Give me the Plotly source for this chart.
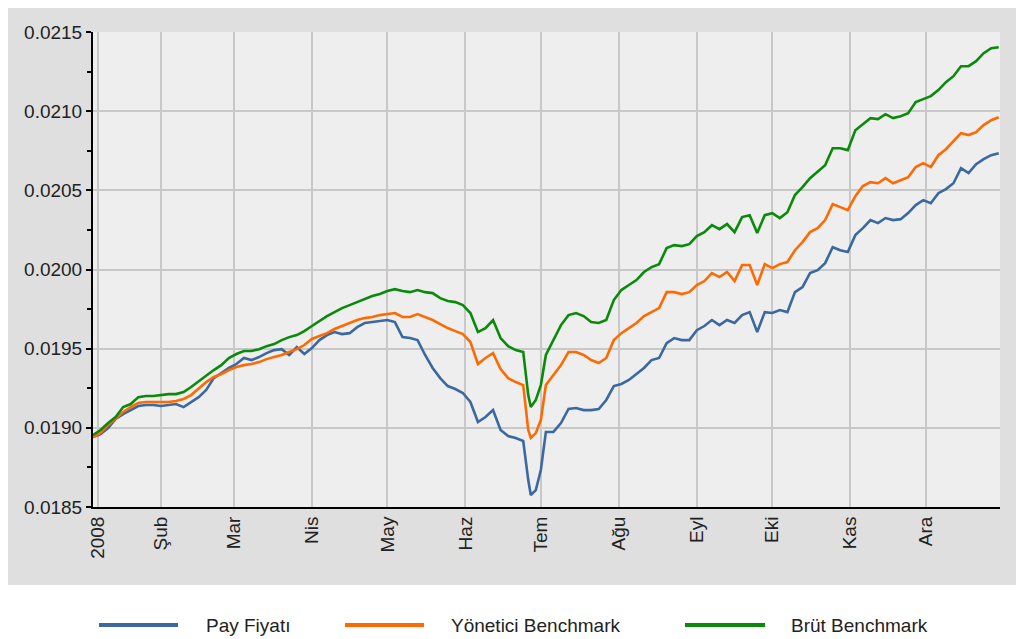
import plotly.graph_objects as go

dates = [
    "2008-01-05", "2008-01-08", "2008-01-11", "2008-01-14", "2008-01-17", "2008-01-20", "2008-01-23", "2008-01-26", "2008-01-29",
    "2008-02-01", "2008-02-04", "2008-02-07", "2008-02-10", "2008-02-13", "2008-02-16", "2008-02-19", "2008-02-22", "2008-02-25", "2008-02-28",
    "2008-03-02", "2008-03-05", "2008-03-08", "2008-03-11", "2008-03-14", "2008-03-17", "2008-03-20", "2008-03-23", "2008-03-26", "2008-03-29",
    "2008-04-01", "2008-04-04", "2008-04-07", "2008-04-10", "2008-04-13", "2008-04-16", "2008-04-19", "2008-04-22", "2008-04-25", "2008-04-28",
    "2008-05-01", "2008-05-04", "2008-05-07", "2008-05-10", "2008-05-13", "2008-05-16", "2008-05-19", "2008-05-22", "2008-05-25", "2008-05-28", "2008-05-31",
    "2008-06-03", "2008-06-06", "2008-06-09", "2008-06-12", "2008-06-15", "2008-06-18", "2008-06-21", "2008-06-24", "2008-06-26", "2008-06-27", "2008-06-29",
    "2008-07-01", "2008-07-03", "2008-07-06", "2008-07-09", "2008-07-12", "2008-07-15", "2008-07-18", "2008-07-21", "2008-07-24", "2008-07-27", "2008-07-30",
    "2008-08-02", "2008-08-05", "2008-08-08", "2008-08-11", "2008-08-14", "2008-08-17", "2008-08-20", "2008-08-23", "2008-08-26", "2008-08-29",
    "2008-09-01", "2008-09-04", "2008-09-07", "2008-09-10", "2008-09-13", "2008-09-16", "2008-09-19", "2008-09-22", "2008-09-25", "2008-09-28",
    "2008-10-01", "2008-10-04", "2008-10-07", "2008-10-10", "2008-10-13", "2008-10-16", "2008-10-19", "2008-10-22", "2008-10-25", "2008-10-28", "2008-10-31",
    "2008-11-03", "2008-11-06", "2008-11-09", "2008-11-12", "2008-11-15", "2008-11-18", "2008-11-21", "2008-11-24", "2008-11-27", "2008-11-30",
    "2008-12-03", "2008-12-06", "2008-12-09", "2008-12-12", "2008-12-15", "2008-12-18", "2008-12-21", "2008-12-24", "2008-12-27", "2008-12-30",
]

pay_fiyati = [
    0.018942, 0.018961, 0.018999, 0.019056, 0.019087, 0.019112, 0.019138, 0.019144, 0.019144,
    0.019138, 0.019144, 0.019150, 0.019131, 0.019163, 0.019194, 0.019239, 0.019314, 0.019346, 0.019378,
    0.019403, 0.019441, 0.019428, 0.019447, 0.019472, 0.019491, 0.019497, 0.019460, 0.019510, 0.019466,
    0.019504, 0.019554, 0.019586, 0.019605, 0.019592, 0.019598, 0.019636, 0.019662, 0.019668, 0.019674,
    0.019681, 0.019668, 0.019573, 0.019567, 0.019554, 0.019460, 0.019378, 0.019314, 0.019264, 0.019245, 0.019220,
    0.019163, 0.019037, 0.019068, 0.019112, 0.018986, 0.018948, 0.018936, 0.018917, 0.018670, 0.018576, 0.018607,
    0.018734, 0.018974, 0.018974, 0.019030, 0.019119, 0.019125, 0.019112, 0.019112, 0.019119, 0.019176, 0.019264,
    0.019277, 0.019302, 0.019340, 0.019378, 0.019428, 0.019441, 0.019535, 0.019567, 0.019554, 0.019554,
    0.019617, 0.019643, 0.019681, 0.019649, 0.019681, 0.019662, 0.019712, 0.019731, 0.019605, 0.019731,
    0.019725, 0.019744, 0.019731, 0.019857, 0.019889, 0.019977, 0.019996, 0.020040, 0.020141, 0.020122, 0.020110,
    0.020217, 0.020261, 0.020312, 0.020293, 0.020325, 0.020312, 0.020318, 0.020356, 0.020407, 0.020438,
    0.020419, 0.020482, 0.020508, 0.020545, 0.020640, 0.020609, 0.020665, 0.020697, 0.020722, 0.020735,
]

yonetici_benchmark = [
    0.018942, 0.018967, 0.019018, 0.019062, 0.019100, 0.019131, 0.019157, 0.019163, 0.019163,
    0.019163, 0.019163, 0.019169, 0.019182, 0.019207, 0.019245, 0.019289, 0.019321, 0.019340, 0.019365,
    0.019384, 0.019396, 0.019403, 0.019415, 0.019434, 0.019447, 0.019460, 0.019479, 0.019497, 0.019523,
    0.019561, 0.019580, 0.019598, 0.019624, 0.019643, 0.019662, 0.019681, 0.019693, 0.019700, 0.019712,
    0.019718, 0.019725, 0.019700, 0.019700, 0.019718, 0.019700, 0.019681, 0.019655, 0.019630, 0.019611, 0.019592,
    0.019542, 0.019403, 0.019441, 0.019472, 0.019371, 0.019314, 0.019289, 0.019270, 0.018986, 0.018936, 0.018967,
    0.019049, 0.019270, 0.019333, 0.019396, 0.019479, 0.019479, 0.019460, 0.019428, 0.019409, 0.019441, 0.019554,
    0.019598, 0.019630, 0.019662, 0.019706, 0.019731, 0.019756, 0.019857, 0.019857, 0.019845, 0.019857,
    0.019902, 0.019927, 0.019977, 0.019952, 0.019984, 0.019927, 0.020028, 0.020028, 0.019902, 0.020034,
    0.020009, 0.020034, 0.020047, 0.020122, 0.020173, 0.020236, 0.020261, 0.020312, 0.020413, 0.020394, 0.020375,
    0.020463, 0.020527, 0.020552, 0.020545, 0.020577, 0.020545, 0.020564, 0.020583, 0.020647, 0.020672,
    0.020647, 0.020722, 0.020760, 0.020811, 0.020861, 0.020849, 0.020867, 0.020912, 0.020943, 0.020962,
]

brut_benchmark = [
    0.018955, 0.018986, 0.019030, 0.019068, 0.019131, 0.019150, 0.019194, 0.019201, 0.019201,
    0.019207, 0.019213, 0.019213, 0.019226, 0.019258, 0.019295, 0.019333, 0.019365, 0.019396, 0.019441,
    0.019466, 0.019485, 0.019485, 0.019497, 0.019516, 0.019529, 0.019554, 0.019573, 0.019586, 0.019611,
    0.019643, 0.019674, 0.019706, 0.019731, 0.019756, 0.019775, 0.019794, 0.019813, 0.019832, 0.019845,
    0.019864, 0.019876, 0.019864, 0.019857, 0.019870, 0.019857, 0.019851, 0.019819, 0.019801, 0.019794, 0.019775,
    0.019725, 0.019605, 0.019630, 0.019681, 0.019567, 0.019516, 0.019491, 0.019479, 0.019207, 0.019131, 0.019176,
    0.019270, 0.019460, 0.019554, 0.019649, 0.019712, 0.019725, 0.019706, 0.019668, 0.019662, 0.019681, 0.019807,
    0.019870, 0.019902, 0.019933, 0.019984, 0.020015, 0.020034, 0.020135, 0.020154, 0.020148, 0.020160,
    0.020211, 0.020236, 0.020280, 0.020255, 0.020287, 0.020236, 0.020331, 0.020343, 0.020230, 0.020343,
    0.020356, 0.020325, 0.020362, 0.020470, 0.020520, 0.020577, 0.020621, 0.020659, 0.020766, 0.020766, 0.020754,
    0.020880, 0.020918, 0.020956, 0.020950, 0.020981, 0.020956, 0.020968, 0.020987, 0.021057, 0.021076,
    0.021095, 0.021133, 0.021183, 0.021221, 0.021284, 0.021284, 0.021316, 0.021366, 0.021398, 0.021404,
]

series_names = ["Pay Fiyatı", "Yönetici Benchmark", "Brüt Benchmark"]
series_colors = ["#3a68a0", "#ff6a00", "#0a8a0a"]

month_tick_dates = ["2008-01-07", "2008-02-01", "2008-03-01", "2008-04-01", "2008-05-01", "2008-06-01",
                    "2008-07-01", "2008-08-01", "2008-09-01", "2008-10-01", "2008-11-01", "2008-12-01"]
month_tick_labels = ["2008", "Şub", "Mar", "Nis", "May", "Haz", "Tem", "Ağu", "Eyl", "Eki", "Kas", "Ara"]

y_ticks = [0.0185, 0.0190, 0.0195, 0.0200, 0.0205, 0.0210, 0.0215]

FONT = "Liberation Sans, Arial, sans-serif"

fig = go.Figure()
for name, vals, col in zip(series_names, [pay_fiyati, yonetici_benchmark, brut_benchmark], series_colors):
    fig.add_trace(go.Scatter(x=dates, y=vals, mode="lines", name=name,
                             line=dict(color=col, width=2.6), showlegend=False))

# page has an 8px body margin, so figure coords = page coords - 8
W, H = 1016, 631
L, R, T, B = 85, 24, 24, 132
pw, ph = W - L - R, H - T - B

def px_x(p):
    return (p - L) / pw

def px_y(p):
    return (H - B - p) / ph

shapes = []
# white area outside grey panel (bottom legend strip, right edge)
for (x0, x1, y0, y1) in [(0, W, 577, H), (1012, W, 0, H)]:
    shapes.append(dict(type="rect", xref="paper", yref="paper",
                       x0=px_x(x0), x1=px_x(x1), y0=px_y(y1), y1=px_y(y0),
                       fillcolor="white", line=dict(width=0), layer="below"))

annotations = []
legend_pos = [(91, 170, 196), (337, 416, 441), (677, 757, 781)]
for (lx0, lx1, tx), name, col in zip(legend_pos, series_names, series_colors):
    shapes.append(dict(type="line", xref="paper", yref="paper",
                       x0=px_x(lx0), x1=px_x(lx1), y0=px_y(617), y1=px_y(617),
                       line=dict(color=col, width=4)))
    annotations.append(dict(xref="paper", yref="paper", x=px_x(tx), y=px_y(617),
                            text=name, showarrow=False, xanchor="left", yanchor="middle",
                            font=dict(family=FONT, size=19, color="#222222")))

fig.update_layout(
    width=W, height=H,
    margin=dict(l=L, r=R, t=T, b=B, pad=0),
    paper_bgcolor="#dfdfdf",
    plot_bgcolor="#eeeeee",
    shapes=shapes,
    annotations=annotations,
    showlegend=False,
    xaxis=dict(
        type="date",
        range=["2008-01-05", "2008-12-30 12:00"],
        tickmode="array", tickvals=month_tick_dates, ticktext=month_tick_labels,
        tickangle=-90, ticks="",
        tickfont=dict(family=FONT, size=19, color="#222222"),
        showgrid=True, gridcolor="#c8c8c8", gridwidth=2,
        showline=True, linecolor="black", linewidth=2,
        zeroline=False,
    ),
    yaxis=dict(
        range=[0.0185, 0.0215],
        tickmode="array", tickvals=y_ticks, tickformat=".4f",
        ticks="outside", ticklen=5, tickwidth=2, tickcolor="black",
        minor=dict(dtick=0.00025, ticks="outside", ticklen=4, tickwidth=2, tickcolor="black", showgrid=False),
        tickfont=dict(family=FONT, size=19, color="#222222"),
        showgrid=True, gridcolor="#c8c8c8", gridwidth=2,
        showline=True, linecolor="black", linewidth=2,
        zeroline=False,
    ),
)

fig.write_html("out.html")
